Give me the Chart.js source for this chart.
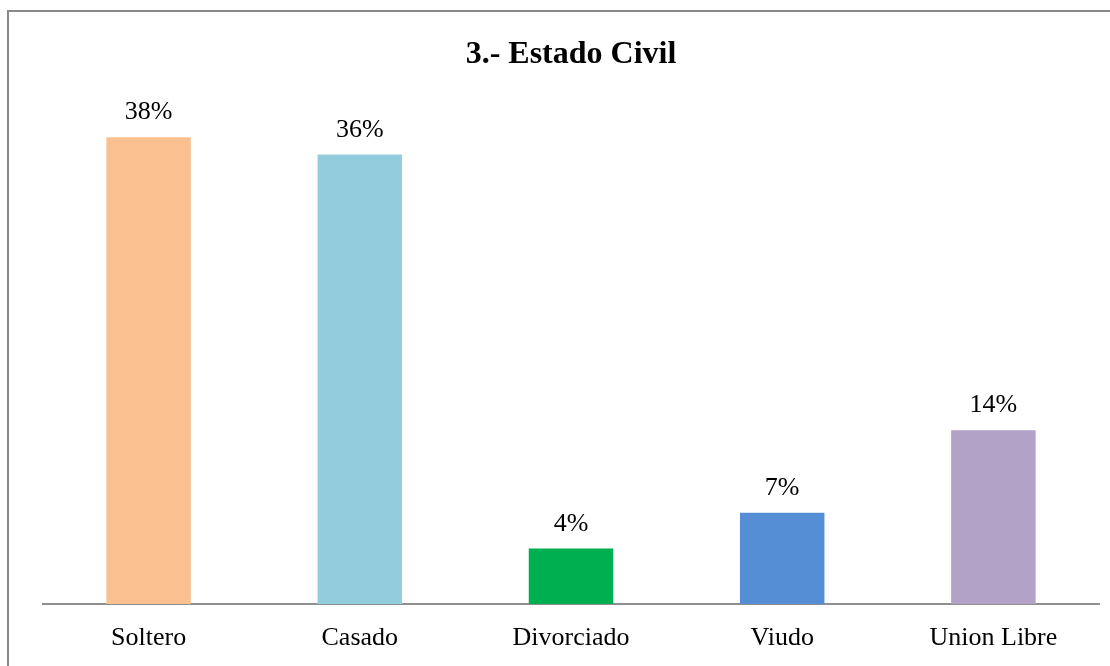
<!DOCTYPE html>
<html>
<head>
<meta charset="utf-8">
<script src="https://cdn.jsdelivr.net/npm/chart.js@4.4.1/dist/chart.umd.min.js"></script>
<style>
  html, body { margin: 0; padding: 0; background: #fff; overflow: hidden; }
  #wrap { position: relative; width: 1110px; height: 666px; }
  #frame { position: absolute; left: 7px; top: 10px; width: 1200px; height: 800px; border: 2px solid #898989; box-sizing: border-box; }
  canvas { position: absolute; left: 0; top: 0; }
</style>
</head>
<body>
<div id="wrap">
  <div id="frame"></div>
  <canvas id="c" width="1110" height="666"></canvas>
</div>
<script>
const categories = ["Soltero", "Casado", "Divorciado", "Viudo", "Union Libre"];
const values = [37.9, 36.5, 4.5, 7.4, 14.1];
const valueLabels = ["38%", "36%", "4%", "7%", "14%"];
const barColors = ["#FAC090", "#93CDDD", "#00B050", "#558ED5", "#B3A2C7"];

const serif = "'Liberation Serif', 'Times New Roman', serif";

const labelPlugin = {
  id: 'valueLabels',
  afterDatasetsDraw(chart) {
    const ctx = chart.ctx;
    const meta = chart.getDatasetMeta(0);
    ctx.save();
    ctx.font = "26px " + serif;
    ctx.fillStyle = "#000";
    ctx.textAlign = "center";
    ctx.textBaseline = "alphabetic";
    meta.data.forEach((bar, i) => {
      ctx.fillText(valueLabels[i], bar.x, bar.y - 18);
    });
    ctx.restore();
  }
};

new Chart(document.getElementById('c'), {
  type: 'bar',
  data: {
    labels: categories,
    datasets: [{
      data: values,
      backgroundColor: barColors,
      borderWidth: 0,
      categoryPercentage: 1.0,
      barPercentage: 0.4
    }]
  },
  options: {
    responsive: false,
    animation: false,
    events: [],
    layout: { padding: { left: 43, right: 11, top: 0, bottom: 0 } },
    plugins: {
      legend: { display: false },
      tooltip: { enabled: false },
      title: {
        display: true,
        text: "3.- Estado Civil",
        color: "#000",
        font: { family: serif, size: 32, weight: 'bold' },
        padding: { top: 36, bottom: 37 }
      }
    },
    scales: {
      x: {
        grid: { display: false, drawTicks: false },
        border: { display: true, color: "#8f8f8f", width: 2 },
        ticks: { color: "#000", font: { family: serif, size: 26 }, padding: 19, maxRotation: 0 },
        afterFit: (scale) => { scale.height = 62; }
      },
      y: {
        display: false,
        min: 0,
        max: 40
      }
    }
  },
  plugins: [labelPlugin]
});
</script>
</body>
</html>
